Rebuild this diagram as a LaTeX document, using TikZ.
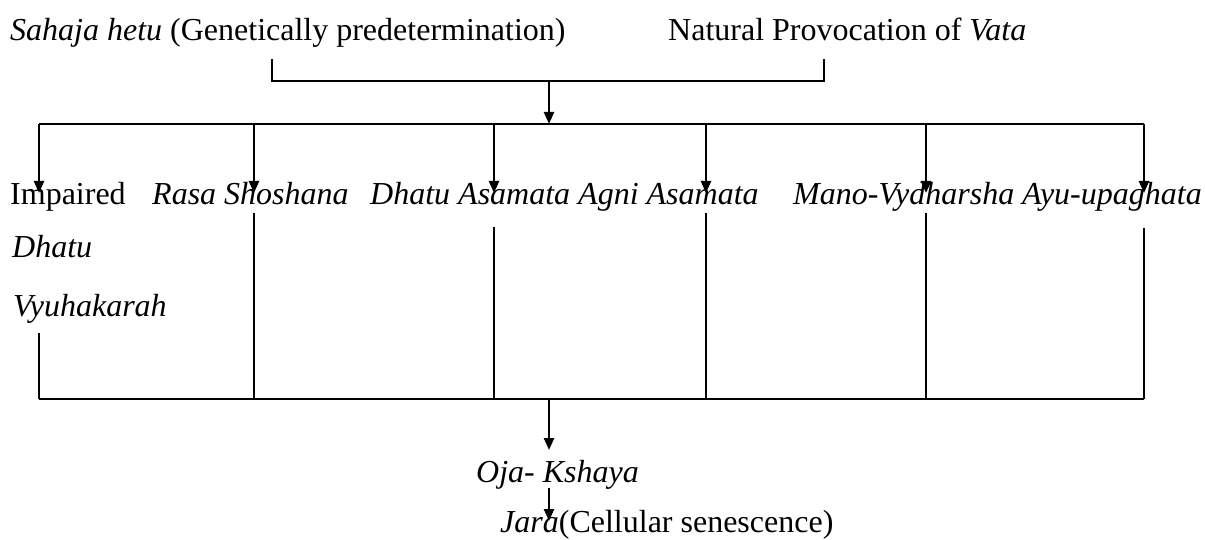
\documentclass[tikz,border=0pt]{standalone}
\usepackage{fontspec}
\setmainfont{Liberation Serif}
\usetikzlibrary{arrows.meta}
\begin{document}
\begin{tikzpicture}[x=1pt,y=-1pt,
  lbl/.style={anchor=base west,inner sep=0pt,font=\fontsize{32}{38}\selectfont},
  wire/.style={line width=2pt},
  arr/.style={line width=2.4pt,-{Triangle[length=12pt,width=10pt]}}]
\useasboundingbox (0,0) rectangle (1205,540);
% texts
\node[lbl] (sahaja) at (10,41) {\textit{Sahaja hetu} (Genetically predetermination)};
\node[lbl] (vata) at (668,41) {Natural Provocation of \textit{Vata}};
\node[lbl] (imp) at (10,205) {Impaired};
\node[lbl] (dhatu) at (12,258) {\textit{Dhatu}};
\node[lbl] (vyuha) at (13,316) {\textit{Vyuhakarah}};
\node[lbl] (rasa) at (152,205) {\textit{Rasa Shoshana}};
\node[lbl] (dasam) at (370,205) {\textit{Dhatu Asamata}};
\node[lbl] (agni) at (578,205) {\textit{Agni Asamata}};
\node[lbl] (mano) at (793,205) {\textit{Mano-Vydharsha}};
\node[lbl] (ayu) at (1022,205) {\textit{Ayu-upaghata}};
\node[lbl] (oja) at (476,482) {\textit{Oja- Kshaya}};
\node[lbl] (jara) at (500,532) {\textit{Jara}(Cellular senescence)};
% coordinates
\coordinate (bl) at (272,59);
\coordinate (bl2) at (272,81);
\coordinate (br) at (824,59);
\coordinate (br2) at (824,81);
\coordinate (bm) at (549,81);
\coordinate (mm) at (549,124);
\foreach \i/\x/\s in {1/39/333,2/254/213,3/494/227,4/706/213,5/926/213,6/1144/228}{
  \coordinate (h\i) at (\x,124);
  \coordinate (t\i) at (\x,193);
  \coordinate (l\i) at (\x,\s);
  \coordinate (b\i) at (\x,399);
}
\coordinate (bo) at (549,399);
\coordinate (ot) at (549,450);
\coordinate (j0) at (549,488);
\coordinate (j1) at (549,521);
% top bracket
\draw[wire] (bl) -- (bl2) -- (br2) -- (br);
\draw[arr] (bm) -- (mm);
\draw[wire] (h1) -- (h6);
\foreach \i in {1,...,6}{
  \draw[arr] (h\i) -- (t\i);
  \draw[wire] (l\i) -- (b\i);
}
\draw[wire] (b1) -- (b6);
\draw[arr] (bo) -- (ot);
\draw[arr] (j0) -- (j1);
\end{tikzpicture}
\end{document}
